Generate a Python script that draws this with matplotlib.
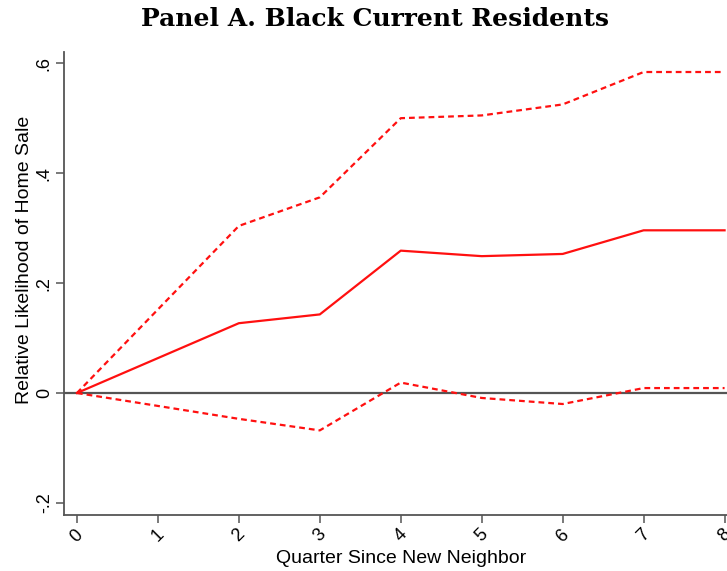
import numpy as np
import matplotlib
matplotlib.use("Agg")
import matplotlib.pyplot as plt

# event-study estimates by quarter since new neighbor
quarters = [0, 2, 3, 4, 5, 6, 7, 8]
coef = [0.0, 0.127, 0.143, 0.259, 0.249, 0.253, 0.296, 0.296]
ci_upper = [0.0, 0.304, 0.356, 0.500, 0.505, 0.525, 0.584, 0.584]
ci_lower = [0.0, -0.047, -0.068, 0.019, -0.009, -0.020, 0.009, 0.009]

xticks = [0, 1, 2, 3, 4, 5, 6, 7, 8]
yticks = [-0.2, 0, 0.2, 0.4, 0.6]
ytick_labels = ["-.2", "0", ".2", ".4", ".6"]

plt.rcParams['font.family'] = ['Liberation Sans', 'DejaVu Sans']

fig = plt.figure(figsize=(7.27, 5.71), dpi=100)
ax = fig.add_axes([0.088, 0.098, 0.912, 0.8115])

ax.axhline(0, color="#555555", lw=1.6, zorder=1)
ax.plot(quarters, coef, color="#ff1010", lw=1.6, zorder=3)
ax.plot(quarters, ci_upper, color="#ff1010", lw=1.6, ls=(0, (2.6, 1.8)), zorder=3)
ax.plot(quarters, ci_lower, color="#ff1010", lw=1.6, ls=(0, (2.6, 1.8)), zorder=3)

ax.set_xlim(-0.16, 8.03)
ax.set_ylim(-0.222, 0.621)
ax.set_xticks(xticks)
ax.set_xticklabels([str(t) for t in xticks], rotation=45, fontsize=13,
                   ha="center", va="top")
ax.set_yticks(yticks)
ax.set_yticklabels(ytick_labels, rotation=90, fontsize=13, va="center")

for side in ["top", "right"]:
    ax.spines[side].set_visible(False)
for side in ["left", "bottom"]:
    ax.spines[side].set_color("#555555")
    ax.spines[side].set_linewidth(1.3)
ax.tick_params(axis="both", direction="out", length=6, width=1.1,
               color="#555555", pad=2)

ax.set_xlabel("Quarter Since New Neighbor", fontsize=14)
ax.set_ylabel("Relative Likelihood of Home Sale", fontsize=14)
ax.xaxis.set_label_coords(0.508, -0.075)
ax.yaxis.set_label_coords(-0.047, 0.55)

fig.text(0.516, 0.967, "Panel A. Black Current Residents", ha="center",
         va="center", fontsize=18, fontweight="bold", family="DejaVu Serif")

fig.savefig("out.png", dpi=100)
